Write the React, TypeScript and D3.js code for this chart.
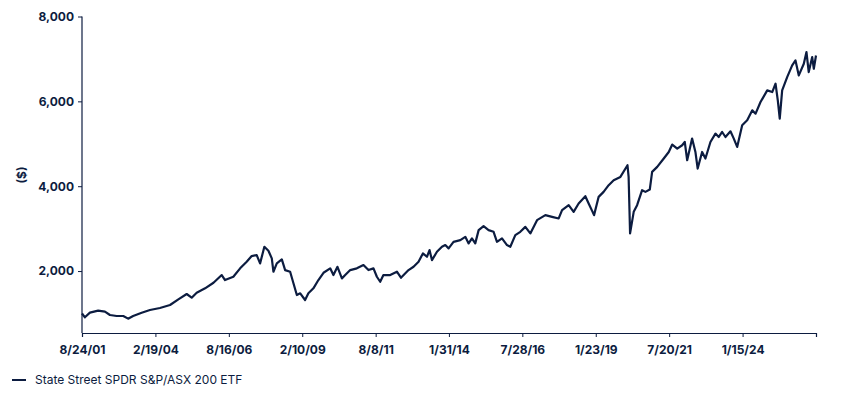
import React, { useEffect, useRef } from 'react';
import * as d3 from 'd3';

const dates = [
  '2001-08-24', '2001-09-29', '2001-11-30', '2002-03-12', '2002-06-04', '2002-08-05', '2002-10-27',
  '2003-01-17', '2003-03-18', '2003-05-19', '2003-09-02', '2003-12-13', '2004-04-15', '2004-08-18',
  '2004-11-29', '2005-03-12', '2005-05-13', '2005-07-14', '2005-10-26', '2006-02-07', '2006-05-20',
  '2006-06-30', '2006-10-11', '2007-01-03', '2007-03-25', '2007-05-26', '2007-07-27', '2007-09-07',
  '2007-10-30', '2007-12-19', '2008-01-30', '2008-02-19', '2008-04-01', '2008-06-02', '2008-07-13',
  '2008-09-13', '2008-10-24', '2008-12-05', '2009-01-16', '2009-03-17', '2009-04-27', '2009-06-28',
  '2009-08-29', '2009-10-31', '2010-01-22', '2010-03-03', '2010-04-22', '2010-06-16', '2010-07-27',
  '2010-09-27', '2010-12-18', '2011-03-10', '2011-05-11', '2011-07-12', '2011-08-23', '2011-10-03',
  '2011-11-12', '2012-02-04', '2012-04-27', '2012-06-16', '2012-09-18', '2012-11-19', '2013-01-20',
  '2013-03-15', '2013-05-04', '2013-06-05', '2013-07-05', '2013-09-05', '2013-11-06', '2013-12-17',
  '2014-01-27', '2014-03-29', '2014-06-21', '2014-08-22', '2014-10-02', '2014-11-12', '2014-12-23',
  '2015-02-03', '2015-04-05', '2015-06-06', '2015-08-07', '2015-09-18', '2015-11-19',
  '2016-01-20', '2016-03-01', '2016-05-02', '2016-07-03', '2016-09-03', '2016-11-04', '2017-01-26',
  '2017-05-09', '2017-07-31', '2017-10-21', '2017-12-02', '2018-02-22', '2018-04-24', '2018-06-25',
  '2018-09-16', '2018-10-27', '2018-12-09', '2019-01-02', '2019-02-28', '2019-04-30', '2019-07-02',
  '2019-09-02', '2019-11-24', '2020-02-20', '2020-03-05', '2020-03-23', '2020-05-07', '2020-06-18',
  '2020-08-19', '2020-09-29', '2020-11-22', '2020-12-21', '2021-02-22', '2021-05-14', '2021-07-15',
  '2021-08-27', '2021-10-28', '2021-12-28', '2022-01-29', '2022-02-28', '2022-04-30', '2022-06-10',
  '2022-07-08', '2022-09-01', '2022-10-12', '2022-12-13', '2023-02-13', '2023-03-26', '2023-05-07',
  '2023-06-17', '2023-08-18', '2023-09-28', '2023-11-09', '2024-01-10', '2024-03-12', '2024-05-14',
  '2024-06-24', '2024-08-24', '2024-11-15', '2025-01-16', '2025-02-26', '2025-03-26',
  '2025-04-19', '2025-05-19', '2025-07-20', '2025-09-20', '2025-10-31', '2025-12-11', '2026-02-11',
  '2026-03-16', '2026-04-13', '2026-05-26', '2026-06-15', '2026-07-12',
];

const values = [
  1000, 910, 1019, 1066, 1042, 965, 941,
  941, 878, 941, 1019, 1082, 1129, 1200,
  1334, 1459, 1372, 1490, 1593, 1725, 1906,
  1788, 1866, 2064, 2219, 2353, 2376, 2181,
  2572, 2478, 2299, 1984, 2181, 2275, 2023,
  1984, 1711, 1435, 1475, 1318, 1475, 1593,
  1788, 1960, 2064, 1906, 2101, 1828, 1906,
  2023, 2064, 2141, 2023, 2064, 1866, 1748,
  1906, 1906, 1984, 1843, 2023, 2101, 2219,
  2416, 2337, 2494, 2259, 2454, 2572, 2612,
  2534, 2689, 2729, 2807, 2652, 2769, 2652,
  2965, 3059, 2965, 2925, 2689, 2769,
  2612, 2572, 2847, 2925, 3042, 2887, 3200,
  3318, 3278, 3240, 3435, 3553, 3396, 3593,
  3765, 3593, 3419, 3318, 3749, 3866, 4024,
  4141, 4219, 4494, 4219, 2887, 3396, 3553,
  3906, 3866, 3922, 4337, 4455, 4652, 4807,
  4981, 4887, 4965, 5043, 4612, 5122, 4807,
  4416, 4807, 4652, 5043, 5240, 5160, 5278,
  5160, 5294, 5122, 4925, 5435, 5553, 5788,
  5710, 5984, 6259, 6219, 6416, 6024,
  5593, 6259, 6572, 6847, 6965, 6612, 6887,
  7161, 6690, 7043, 6769, 7082,
];

const tickDates = [
  '2001-08-24', '2004-02-19', '2006-08-16', '2009-02-10', '2011-08-08',
  '2014-01-31', '2016-07-28', '2019-01-23', '2021-07-20', '2024-01-15',
];
const yTicks = [2000, 4000, 6000, 8000];
const seriesName = 'State Street SPDR S&P/ASX 200 ETF';

const NAVY = '#0c1c40';
const FONT = 'Inter, "Noto Sans", sans-serif';

const App = () => {
  const ref = useRef(null);

  useEffect(() => {
    if (!ref.current) return;
    const svg = d3.select(ref.current);
    svg.selectAll('*').remove();

    const parse = d3.timeParse('%Y-%m-%d');
    const data = dates.map((d, i) => ({ date: parse(d) as Date, value: values[i] }));

    const left = 82, right = 816, top = 16.5, bottom = 333;

    const x = d3.scaleTime()
      .domain(d3.extent(data, d => d.date) as [Date, Date])
      .range([left, right]);
    const y = d3.scaleLinear().domain([540, 8000]).range([bottom, top]);

    const fmt = (d: Date) => `${d.getMonth() + 1}/${d.getDate()}/${String(d.getFullYear()).slice(2)}`;

    // x axis
    const xAxis = svg.append('g')
      .attr('transform', `translate(0,${bottom})`)
      .call(d3.axisBottom(x)
        .tickValues(tickDates.map(d => parse(d) as Date))
        .tickFormat(d => fmt(d as Date))
        .tickSize(4)
        .tickPadding(8));
    xAxis.select('.domain').attr('stroke', NAVY).attr('stroke-width', 1.2);
    xAxis.selectAll('.tick line').attr('stroke', NAVY);
    xAxis.selectAll('.tick text')
      .attr('fill', NAVY)
      .style('font-family', FONT)
      .style('font-size', '12px')
      .style('font-weight', 700);

    // y axis
    const yAxis = svg.append('g')
      .attr('transform', `translate(${left},0)`)
      .call(d3.axisLeft(y)
        .tickValues(yTicks)
        .tickFormat(d3.format(','))
        .tickSize(4)
        .tickPadding(4));
    yAxis.select('.domain').attr('stroke', NAVY).attr('stroke-width', 1.2)
      .attr('d', `M0,${bottom}V${top}`);
    yAxis.selectAll('.tick line').attr('stroke', NAVY);
    yAxis.selectAll('.tick text')
      .attr('fill', NAVY)
      .style('font-family', FONT)
      .style('font-size', '12px')
      .style('font-weight', 700);

    svg.append('text')
      .attr('transform', `translate(26,175) rotate(-90)`)
      .attr('text-anchor', 'middle')
      .attr('fill', NAVY)
      .style('font-family', FONT)
      .style('font-size', '12px')
      .style('font-weight', 700)
      .text('($)');

    const line = d3.line<{ date: Date; value: number }>()
      .x(d => x(d.date))
      .y(d => y(d.value));

    svg.append('path')
      .datum(data)
      .attr('d', line)
      .attr('fill', 'none')
      .attr('stroke', NAVY)
      .attr('stroke-width', 2.2)
      .attr('stroke-linejoin', 'round');

    // legend
    svg.append('line')
      .attr('x1', 12).attr('x2', 26)
      .attr('y1', 380).attr('y2', 380)
      .attr('stroke', NAVY)
      .attr('stroke-width', 2);
    svg.append('text')
      .attr('x', 35)
      .attr('y', 384)
      .attr('fill', NAVY)
      .style('font-family', FONT)
      .style('font-size', '12px')
      .text(seriesName);
  }, []);

  return (
    <svg
      ref={ref}
      width={842}
      height={400}
      style={{ position: 'absolute', left: 0, top: 0, background: '#fff' }}
    />
  );
};

export default App;
